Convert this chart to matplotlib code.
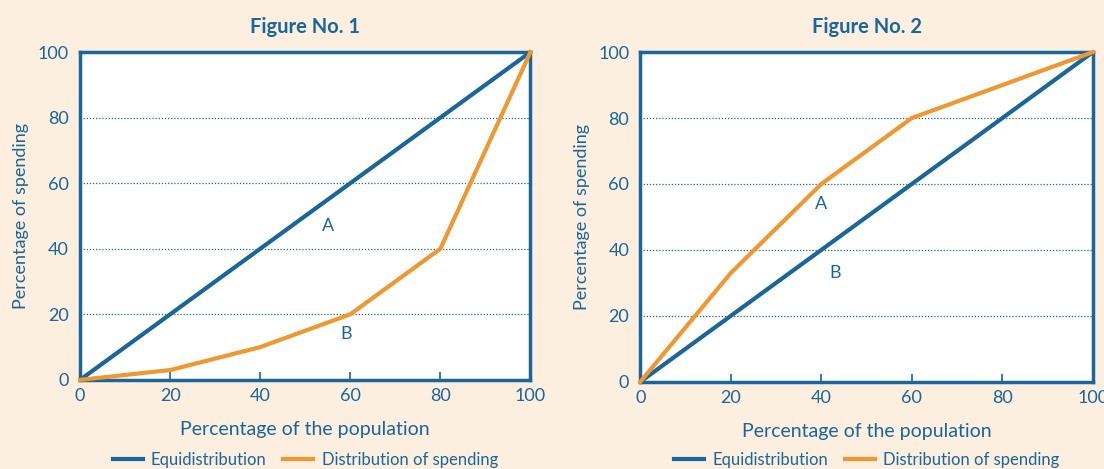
import matplotlib.pyplot as plt

plt.rcParams['font.family'] = ['Lato', 'DejaVu Sans']

# Data
population = [0, 20, 40, 60, 80, 100]
equi = [0, 20, 40, 60, 80, 100]
spending_1 = [0, 3, 10, 20, 40, 100]
spending_2 = [0, 33, 60, 80, 90, 100]
ticks = [0, 20, 40, 60, 80, 100]

BLUE = '#18669a'
ORANGE = '#f0972f'
BG = '#fdefe0'


def draw_panel(fig, ax, spending, title, labels):
    ax.set_facecolor('white')
    for y in [20, 40, 60, 80]:
        ax.axhline(y, color=BLUE, linestyle=(0, (1, 1.5)), linewidth=0.9, zorder=1)
    ax.plot(population, equi, color=BLUE, linewidth=3, label='Equidistribution', zorder=3)
    ax.plot(population, spending, color=ORANGE, linewidth=3,
            label='Distribution of spending', zorder=3, clip_on=False)
    for x, y, t in labels:
        ax.text(x, y, t, color=BLUE, fontsize=13, ha='center', va='center')
    ax.set_xlim(0, 100)
    ax.set_ylim(0, 100)
    ax.set_xticks(ticks)
    ax.set_yticks(ticks)
    ax.tick_params(axis='x', direction='in', length=6, width=1.2, color=BLUE,
                   labelcolor=BLUE, labelsize=13, pad=6)
    ax.tick_params(axis='y', length=0, labelcolor=BLUE, labelsize=13, pad=8)
    for s in ax.spines.values():
        s.set_color(BLUE)
        s.set_linewidth(2.5)
    ax.set_title(title, color=BLUE, fontsize=14.5, fontweight='bold', pad=14)
    ax.set_xlabel('Percentage of the population', color=BLUE, fontsize=14, labelpad=12)
    ax.set_ylabel('Percentage of spending', color=BLUE, fontsize=13, labelpad=6)
    pos = ax.get_position()
    cx = (pos.x0 + pos.x1) / 2
    ax.legend(loc='center', bbox_to_anchor=(cx, 0.02), bbox_transform=fig.transFigure,
              ncol=2, frameon=False, fontsize=12, labelcolor=BLUE, handlelength=1.8,
              columnspacing=1.0, borderaxespad=0, borderpad=0, handletextpad=0.5)


fig = plt.figure(figsize=(11.04, 4.69), dpi=100, facecolor=BG)
ax1 = fig.add_axes([0.0725, 0.19, 0.408, 0.699])
ax2 = fig.add_axes([0.58, 0.186, 0.41, 0.703])

draw_panel(fig, ax1, spending_1, 'Figure No. 1', [(55, 47, 'A'), (59, 14, 'B')])
draw_panel(fig, ax2, spending_2, 'Figure No. 2', [(40, 54, 'A'), (43, 33, 'B')])

fig.savefig('out.png', dpi=100, facecolor=BG)
